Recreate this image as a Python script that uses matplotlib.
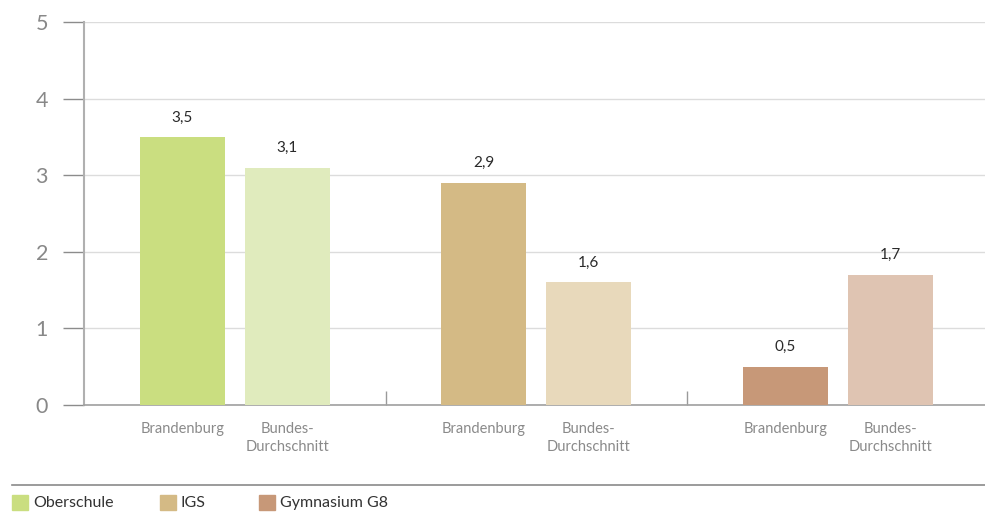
import matplotlib

matplotlib.use("Agg")
import numpy as np
from matplotlib import pyplot as plt
from matplotlib.lines import Line2D
from matplotlib.patches import Rectangle

plt.rcParams["font.family"] = ["Lato", "DejaVu Sans"]

school_types = ["Oberschule", "IGS", "Gymnasium G8"]
bar_labels = ["Brandenburg", "Bundes-\nDurchschnitt"]
brandenburg = [3.5, 2.9, 0.5]
bundesschnitt = [3.1, 1.6, 1.7]
dark_colors = ["#cade80", "#d4ba85", "#c79878"]
light_colors = ["#e0ebbd", "#e8d9bb", "#dfc4b2"]

fig = plt.figure(figsize=(9.85, 5.13), dpi=100)
ax = fig.add_axes([84 / 985, 108 / 513, 904.5 / 985, 383 / 513])

groups = np.arange(len(school_types))
offset = 0.174
width = 0.282
b1 = ax.bar(groups - offset, brandenburg, width, color=dark_colors, zorder=3)
b2 = ax.bar(groups + offset, bundesschnitt, width, color=light_colors, zorder=3)
for bars in (b1, b2):
    ax.bar_label(bars, labels=[f"{v:.1f}".replace(".", ",") for v in bars.datavalues],
                 padding=9, fontsize=11, color="#2a2a2a")

ax.set_xlim(-0.5, 2.5)
ax.set_ylim(0, 5)
ax.set_yticks(range(6))
ax.tick_params(axis="y", length=15, width=1, color="#8c8c8c", labelsize=15.5,
               labelcolor="#888888", pad=11)
ax.yaxis.grid(True, color="#dcdcdc", linewidth=1, zorder=0)

pos = np.concatenate([groups - offset, groups + offset])
ax.set_xticks(pos)
ax.set_xticklabels(bar_labels[:1] * 3 + bar_labels[1:] * 3, linespacing=1.35)
ax.tick_params(axis="x", length=0, labelsize=10.5, labelcolor="#8a8a8a", pad=12)
ax.set_xticks([0.5, 1.5], minor=True)
ax.tick_params(axis="x", which="minor", direction="in", length=10, width=1,
               color="#9a9a9a")

for side in ("top", "right"):
    ax.spines[side].set_visible(False)
ax.spines["left"].set_color("#b0b0b0")
ax.spines["left"].set_linewidth(1.5)
ax.spines["bottom"].set_color("#a0a0a0")
ax.spines["bottom"].set_linewidth(1.2)

# legend strip
fig.add_artist(Line2D([12 / 985, 1], [1 - 485 / 513] * 2, color="#8a8a8a", lw=1.2))
legend_x = [12, 160, 259]
for x, name, col in zip(legend_x, school_types, dark_colors):
    fig.add_artist(Rectangle((x / 985, 1 - 510 / 513), 16 / 985, 15 / 513,
                             color=col, transform=fig.transFigure))
    fig.text((x + 21) / 985, 1 - 503 / 513, name, fontsize=11.5, color="#333333",
             va="center")

fig.savefig("out.png", dpi=100)
